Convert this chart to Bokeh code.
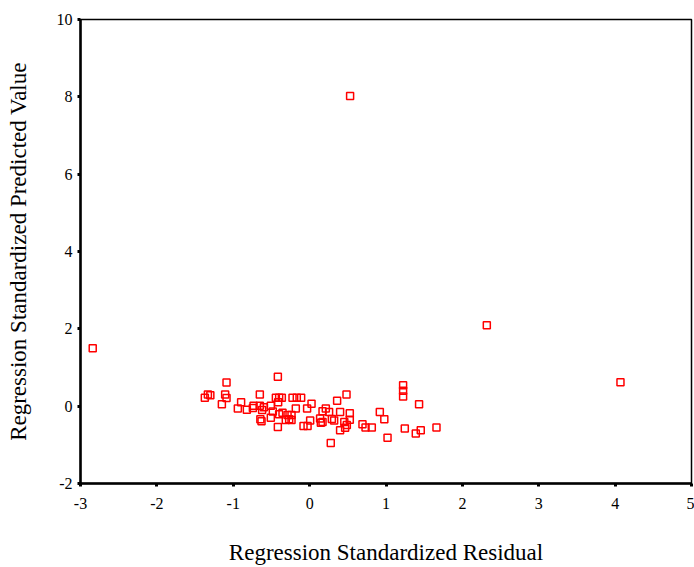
from bokeh.plotting import figure
from bokeh.models import Range1d, FixedTicker
from bokeh.embed import file_html
from bokeh.resources import INLINE

residual = [-2.84, 0.53, 2.32, 4.07,
            -1.372, -1.332, -1.300, -1.088, -1.106, -1.088, -1.149, -0.897, -0.940, -0.822,
            -0.743, -0.734, -0.652, -0.652, -0.599, -0.622, -0.645, -0.630, -0.508, -0.508,
            -0.482, -0.416, -0.442, -0.399, -0.364, -0.399, -0.416, -0.412, -0.355,
            -0.289, -0.237, -0.268, -0.312, -0.237, -0.224, -0.168, -0.111, -0.181, -0.033,
            0.025, 0.007, -0.080, -0.027, 0.137, 0.169, 0.147, 0.169, 0.212, 0.255, 0.291,
            0.321, 0.277, 0.360, 0.399, 0.483, 0.454, 0.487, 0.399, 0.465, 0.526, 0.526,
            0.692, 0.732, 0.814, 0.919, 0.978, 1.020, 1.224, 1.224, 1.224, 1.433, 1.246,
            1.390, 1.455, 1.661]
predicted = [1.50, 8.02, 2.09, 0.62,
             0.22, 0.30, 0.28, 0.61, 0.30, 0.21, 0.05, 0.10, -0.06, -0.09,
             -0.05, 0.01, 0.30, 0.01, -0.03, -0.10, -0.34, -0.39, 0.01, -0.30,
             -0.14, 0.76, 0.22, 0.22, 0.22, -0.21, -0.54, 0.10, -0.17,
             -0.23, -0.23, -0.34, -0.36, -0.36, 0.22, 0.22, 0.22, -0.06, -0.06,
             0.06, -0.37, -0.51, -0.51, -0.32, -0.41, -0.43, -0.13, -0.06, -0.15, -0.33,
             -0.37, -0.95, 0.14, -0.15, 0.30, -0.41, -0.49, -0.62, -0.56, -0.18, -0.35,
             -0.47, -0.55, -0.55, -0.15, -0.34, -0.82, 0.54, 0.40, 0.25, 0.05, -0.58,
             -0.71, -0.62, -0.55]

x_ticks = [-3, -2, -1, 0, 1, 2, 3, 4, 5]
y_ticks = [-2, 0, 2, 4, 6, 8, 10]

FONT = "Liberation Serif"

p = figure(width=694, height=567, output_backend="svg", toolbar_location=None,
           x_range=Range1d(-3, 5), y_range=Range1d(-2, 10),
           min_border_left=80, min_border_right=3, min_border_top=19, min_border_bottom=84)
p.grid.visible = False
p.outline_line_color = "black"
p.outline_line_width = 1.5
p.background_fill_color = "white"
p.border_fill_color = "white"

p.scatter(residual, predicted, marker="square", size=7, fill_color=None,
          line_color="#ff0000", line_width=1.5)

for ax in (p.xaxis[0], p.yaxis[0]):
    ax.axis_line_width = 2.5
    ax.axis_line_color = "black"
    ax.major_tick_line_width = 3
    ax.major_tick_line_color = "black"
    ax.major_tick_out = 3
    ax.major_tick_in = 0
    ax.minor_tick_line_color = None
    ax.major_label_text_font = FONT
    ax.major_label_text_font_size = "16px"
    ax.major_label_text_color = "black"
    ax.axis_label_text_font = FONT
    ax.axis_label_text_font_size = "23px"
    ax.axis_label_text_font_style = "normal"
    ax.axis_label_text_color = "black"

p.xaxis.ticker = FixedTicker(ticks=x_ticks)
p.yaxis.ticker = FixedTicker(ticks=y_ticks)
p.xaxis.major_label_overrides = {t: str(t) for t in x_ticks}
p.yaxis.major_label_overrides = {t: str(t) for t in y_ticks}
p.xaxis.axis_label = "Regression Standardized Residual"
p.yaxis.axis_label = "Regression Standardized Predicted Value"
p.xaxis.major_label_standoff = 11
p.yaxis.major_label_standoff = 5
p.xaxis.axis_label_standoff = 28
p.yaxis.axis_label_standoff = 23

open("out.html", "w").write(file_html(p, INLINE))
